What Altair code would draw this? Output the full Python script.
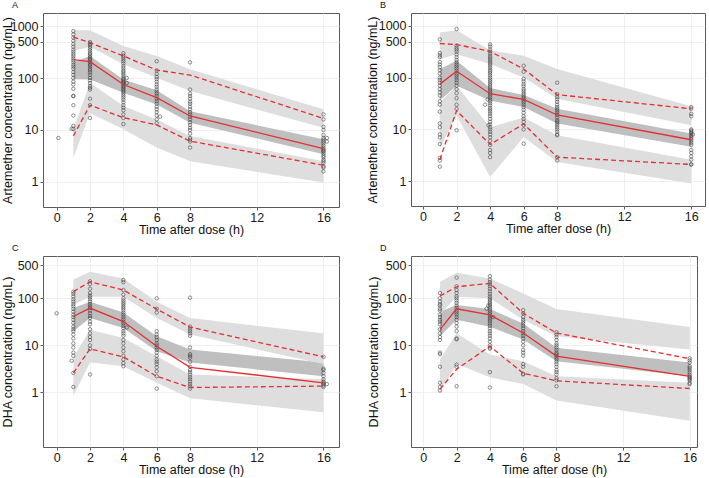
import altair as alt
import pandas as pd

# Nominal sampling times (h) of the VPC bins
TIMES = [1, 2, 4, 6, 8, 16]
X_TICKS = [0, 2, 4, 6, 8, 12, 16]

# ---------------- Panel A: artemether ----------------
A_obs = {
    1: [800, 690, 600, 520, 450, 400, 350, 320, 290, 265, 240, 220, 200, 180, 165,
        150, 130, 115, 100, 85, 75, 62, 45, 45, 30, 19, 12, 10.5],
    2: [490, 460, 430, 400, 370, 340, 310, 290, 270, 250, 235, 220, 205, 190, 178,
        165, 150, 140, 128, 115, 100, 90, 80, 70, 65, 60, 40, 30, 17],
    4: [300, 270, 250, 230, 210, 190, 170, 155, 140, 130, 120, 110, 100, 95, 90, 85,
        80, 75, 70, 66, 62, 58, 54, 50, 46, 42, 38, 34, 30, 27, 24, 20, 17, 13],
    6: [210, 140, 120, 105, 95, 85, 75, 68, 60, 55, 50, 45, 40, 36, 32, 28, 25, 22,
        19, 16, 13.5],
    8: [200, 60, 50, 45, 40, 35, 32, 28, 25, 22, 20, 18, 16, 14, 12.5, 11, 10, 8.5,
        7, 6.5, 6, 4.6],
    16: [20, 16, 11.5, 10, 8, 7, 6.5, 6, 5.5, 5, 4.5, 4.2, 4, 3.8, 3.5, 3.2, 3, 2.7,
         2.5, 2.3, 2, 1.9, 1.6],
}
A_extra_t = [0.1, 0.9, 4.2, 4.2, 6.2, 16.2, 16.2]
A_extra_c = [7, 10.5, 100, 80, 18, 6, 7]
A_p05 = [7.7, 30, 17.3, 12.5, 6.1, 2.1]
A_p50 = [225, 206, 75, 42, 18.6, 4.4]
A_p95 = [612, 478, 265, 142, 114, 16.7]
A_lo_band = ([2.9, 21, 10.3, 4.6, 2.5, 0.98], [10.3, 81, 29, 16, 7.7, 2.5])
A_med_band = ([95, 94, 52, 31, 13.8, 3.4], [200, 265, 94, 58, 23, 6.6])
A_hi_band = ([330, 400, 183, 101, 56, 11], [830, 830, 412, 265, 147, 25])

# ---------------- Panel B: artemether ----------------
B_obs = {
    1: [550, 300, 270, 250, 200, 180, 160, 140, 120, 100, 90, 80, 70, 60, 52, 45, 35,
        30, 22, 13, 11, 8, 7, 5.2, 2.8, 2.5, 1.9],
    2: [870, 420, 380, 350, 320, 280, 250, 220, 200, 180, 165, 150, 135, 120, 110,
        100, 90, 80, 70, 60, 50, 40, 30, 25, 9.6],
    4: [440, 400, 350, 320, 290, 260, 240, 220, 200, 185, 170, 155, 140, 130, 120,
        110, 100, 92, 85, 78, 72, 66, 60, 55, 50, 46, 42, 38, 35, 32, 29, 26, 24, 22,
        20, 18, 16, 14, 12.5, 11, 10, 9, 8, 7, 6, 5, 4, 3.5, 2.9],
    6: [170, 130, 95, 85, 75, 68, 60, 55, 50, 46, 42, 39, 36, 33, 30, 27, 24, 21, 18,
        16, 14, 12, 10, 5.3],
    8: [80, 48, 42, 38, 34, 30, 27, 25, 23, 21, 19, 17, 15, 14, 13, 12, 11, 10, 9, 8,
        7.7, 2.9, 2.5],
    16: [27, 25, 20, 18, 10, 9.5, 9, 8.5, 8, 7.5, 7, 6.5, 6, 5.5, 5, 4, 3.5, 3, 2.6,
         2.1, 2.1],
}
B_extra_t = [3.7, 3.85, 3.9, 16.1]
B_extra_c = [30, 38, 12, 8]
B_p05 = [2.6, 23, 5.1, 12.8, 2.9, 2.1]
B_p50 = [75, 133, 49, 38, 19, 6.3]
B_p95 = [458, 437, 322, 147, 47, 25]
B_lo_band = ([4.3, 18.6, 1.2, 7.1, 2.35, 0.9], [33, 70, 11, 17, 7.7, 2.6])
B_med_band = ([36, 70, 36, 27, 13, 4.6], [147, 212, 63, 46, 25, 8.3])
B_hi_band = ([228, 285, 183, 101, 39, 12], [745, 830, 340, 265, 147, 28])

# ---------------- Panel C: DHA ----------------
C_obs = {
    1: [138, 125, 110, 95, 85, 75, 68, 60, 52, 45, 40, 35, 30, 25, 22, 20, 17, 14, 11,
        9, 7, 6, 2.6, 1.3],
    2: [230, 200, 160, 130, 115, 105, 95, 85, 75, 68, 62, 55, 48, 42, 38, 32, 28, 22,
        18, 15, 13, 10, 8.4, 2.4],
    4: [245, 220, 150, 120, 100, 90, 82, 75, 68, 62, 56, 50, 45, 40, 36, 32, 29, 26,
        23, 20, 18, 16, 13, 11, 9, 7.5, 6, 5, 4.2, 3.6],
    6: [100, 60, 50, 20, 17, 15, 13, 11, 10, 9, 8, 7, 6, 5, 4.5, 4, 3.4, 2.8, 2.2, 1.2],
    8: [103, 25, 22, 20, 18, 16, 9, 6.5, 6, 5.5, 4.5, 3.5, 3, 2.7, 2.4, 2.1, 1.9, 1.7,
        1.5, 1.35, 1.2],
    16: [5.7, 3.2, 3, 2.6, 2.2, 1.9, 1.7, 1.6, 1.5, 1.4, 1.3],
}
C_extra_t = [0, 0.9, 4.2, 16.2]
C_extra_c = [48, 4.7, 24, 1.5]
C_p05 = [2.6, 8.4, 5.7, 2.2, 1.27, 1.36]
C_p50 = [41, 62, 32, 9.6, 3.4, 1.6]
C_p95 = [138, 225, 150, 59, 24.5, 5.7]
C_lo_band = ([0.85, 4.3, 3.6, 1.6, 0.75, 0.38], [5.5, 21.5, 14.4, 5.9, 2.4, 1.9])
C_med_band = ([20, 38, 23.4, 7.5, 4.3, 2.2], [62, 85, 50, 15.6, 8.2, 4.3])
C_hi_band = ([72, 108, 108, 38, 17, 4], [251, 366, 265, 85, 38, 18])

# ---------------- Panel D: DHA ----------------
D_obs = {
    1: [130, 100, 85, 75, 70, 60, 55, 45, 40, 35, 32, 28, 22, 18, 15, 13, 7, 6.5, 3.5,
        1.6, 1.3, 1.1],
    2: [275, 180, 150, 130, 110, 100, 90, 80, 70, 62, 55, 50, 45, 40, 35, 30, 25, 20,
        14, 13.5, 3.9, 3.5, 1.35],
    4: [295, 250, 220, 200, 180, 160, 140, 125, 110, 100, 92, 85, 78, 72, 66, 60, 55,
        50, 46, 42, 38, 35, 32, 29, 26, 23, 20, 18, 16, 14, 12, 10, 9, 8.5, 2.7, 1.27],
    6: [56, 48, 40, 35, 32, 29, 26, 23, 20, 18, 16, 14, 12, 10, 8, 7, 6, 4, 3.5, 2.5,
        2.4],
    8: [19, 17, 15, 13, 11, 10, 9, 8, 7, 6.5, 6, 5.5, 5, 4.5, 4, 3.5, 3, 2.7, 2.4, 2,
        1.8, 1.35],
    16: [5.3, 4.8, 4.3, 3.6, 3.3, 3, 2.7, 2.4, 2.2, 2.1, 2, 1.9, 1.8, 1.6, 1.5],
}
D_extra_t = [3.8, 3.9, 4.2]
D_extra_c = [60, 70, 40]
D_p05 = [1.17, 3.1, 9.6, 2.55, 1.76, 1.21]
D_p50 = [21.6, 60, 44.6, 18.3, 5.9, 2.2]
D_p95 = [112, 176, 208, 48, 18.3, 5.2]
D_lo_band = ([1.0, 4, 2.1, 1.5, 0.67, 0.25], [5, 18, 6.4, 4.6, 2.2, 1.6])
D_med_band = ([15.6, 35, 25, 13.3, 4.6, 2.2], [52, 72, 59, 29, 8.9, 4.3])
D_hi_band = ([44.6, 108, 100, 35, 15.6, 8.2], [224, 348, 265, 127, 59, 24.5])

ART_TITLE = "Artemether concentration (ng/mL)"
DHA_TITLE = "DHA concentration (ng/mL)"

RED = "#E3302F"
BAND_LIGHT = "#DEDEDE"
BAND_DARK = "#BFBFBF"
FONT = "Liberation Sans"


def panel(label, ytitle, obs, extra_t, extra_c, p05, p50, p95,
          lo_band, med_band, hi_band, ydomain, yticks, xdomain, width, height,
          title_pad):
    obs_t, obs_c = [], []
    for t, vals in obs.items():
        obs_t += [t] * len(vals)
        obs_c += vals
    obs_t += extra_t
    obs_c += extra_c
    obs_df = pd.DataFrame({"t": obs_t, "c": obs_c})

    bands = pd.DataFrame({
        "t": TIMES * 3,
        "lo": lo_band[0] + med_band[0] + hi_band[0],
        "hi": lo_band[1] + med_band[1] + hi_band[1],
        "band": ["p05"] * 6 + ["p50"] * 6 + ["p95"] * 6,
    })
    lines = pd.DataFrame({
        "t": TIMES * 3,
        "v": p05 + p50 + p95,
        "q": ["p05"] * 6 + ["p50"] * 6 + ["p95"] * 6,
    })

    xenc = alt.X("t:Q",
                 scale=alt.Scale(domain=xdomain, nice=False, zero=False),
                 axis=alt.Axis(values=X_TICKS, title="Time after dose (h)",
                               format="d"))
    yscale = alt.Scale(type="log", domain=ydomain, nice=False)
    yaxis = alt.Axis(values=yticks, title=ytitle, format="d",
                     titlePadding=title_pad, minExtent=30, maxExtent=30)

    band_layer = alt.Chart(bands).mark_area(opacity=1).encode(
        x=xenc,
        y=alt.Y("lo:Q", scale=yscale, axis=yaxis),
        y2="hi:Q",
        detail="band:N",
        color=alt.Color("band:N", legend=None,
                        scale=alt.Scale(domain=["p05", "p50", "p95"],
                                        range=[BAND_LIGHT, BAND_DARK, BAND_LIGHT])),
    )

    pts = alt.Chart(obs_df).mark_point(
        shape="circle", filled=False, size=12, strokeWidth=0.7,
        color="#3a3a3a", opacity=0.8,
    ).encode(x=xenc, y=alt.Y("c:Q", scale=yscale, axis=yaxis))

    med_line = alt.Chart(lines).transform_filter(alt.datum.q == "p50").mark_line(
        color=RED, strokeWidth=1.3
    ).encode(x=xenc, y=alt.Y("v:Q", scale=yscale, axis=yaxis))

    pi_lines = alt.Chart(lines).transform_filter(alt.datum.q != "p50").mark_line(
        color=RED, strokeWidth=1.3, strokeDash=[5, 3]
    ).encode(x=xenc, y=alt.Y("v:Q", scale=yscale, axis=yaxis), detail="q:N")

    return alt.layer(band_layer, pts, med_line, pi_lines).properties(
        width=width, height=height,
        title=alt.TitleParams(label, anchor="start", frame="group", dx=-31,
                              fontSize=9, offset=3, fontWeight="normal",
                              font=FONT, color="#111111"),
    )


ART_DOM = [0.33, 1780]
DHA_DOM = [0.069, 794]

pA = panel("A", ART_TITLE, A_obs, A_extra_t, A_extra_c, A_p05, A_p50, A_p95,
           A_lo_band, A_med_band, A_hi_band, ART_DOM, [1, 10, 100, 500, 1000],
           [-0.82, 16.93], 296, 194, -1)
pB = panel("B", ART_TITLE, B_obs, B_extra_t, B_extra_c, B_p05, B_p50, B_p95,
           B_lo_band, B_med_band, B_hi_band, ART_DOM, [1, 10, 100, 500, 1000],
           [-0.72, 16.82], 294, 193, 2)
pC = panel("C", DHA_TITLE, C_obs, C_extra_t, C_extra_c, C_p05, C_p50, C_p95,
           C_lo_band, C_med_band, C_hi_band, DHA_DOM, [1, 10, 100, 500],
           [-0.82, 16.93], 296, 191, -1)
pD = panel("D", DHA_TITLE, D_obs, D_extra_t, D_extra_c, D_p05, D_p50, D_p95,
           D_lo_band, D_med_band, D_hi_band, DHA_DOM, [1, 10, 100, 500],
           [-0.74, 16.44], 286, 191, 1)

chart = alt.vconcat(
    alt.hconcat(pA, pB, spacing=25),
    alt.hconcat(pC, pD, spacing=26),
    spacing=6,
).properties(
    padding={"left": 0, "top": 0, "right": 0, "bottom": 0},
    background="white",
).configure_view(
    stroke="#5a5a5a", strokeWidth=1,
).configure_axis(
    grid=True, gridColor="#EBEBEB", gridWidth=0.8,
    domain=False, ticks=True, tickColor="#5a5a5a", tickSize=3,
    labelFont=FONT, labelFontSize=12.5, labelColor="#1a1a1a", labelPadding=2,
    titleFont=FONT, titleFontSize=12.5, titleColor="#111111",
    titleFontWeight="normal",
).configure_axisX(
    titlePadding=0, labelPadding=1,
)

chart.save("out.html", embed_options={"renderer": "svg", "actions": False})
